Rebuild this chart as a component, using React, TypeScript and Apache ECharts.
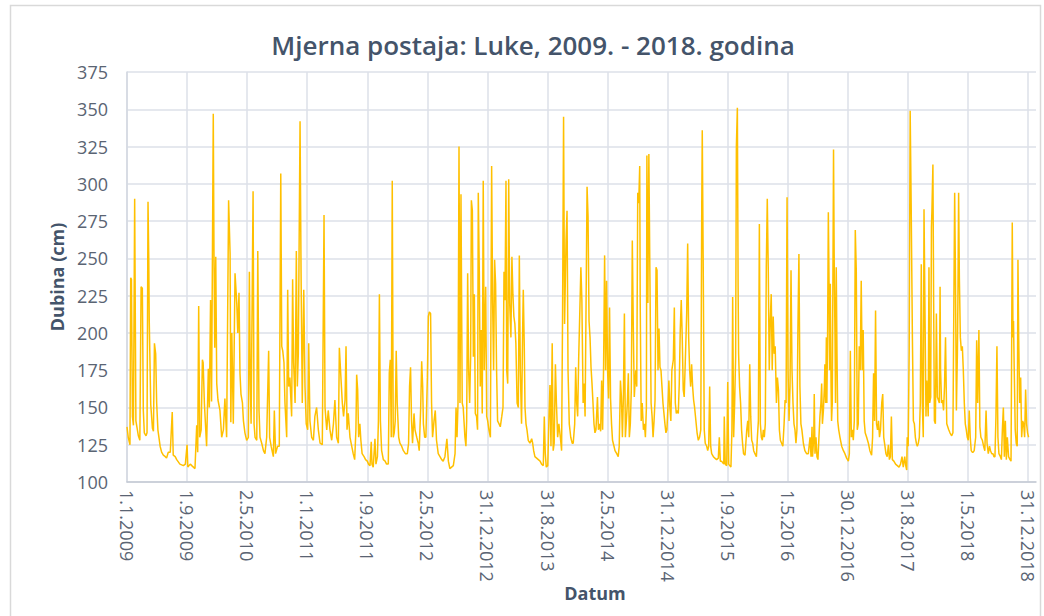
import React, { useEffect, useRef } from "react";
import * as echarts from "echarts";

const TITLE = "Mjerna postaja: Luke, 2009. - 2018. godina";
const Y_NAME = "Dubina (cm)";
const X_NAME = "Datum";
const TICK_LABELS = [
  "1.1.2009", "1.9.2009", "2.5.2010", "1.1.2011", "1.9.2011", "2.5.2012",
  "31.12.2012", "31.8.2013", "2.5.2014", "31.12.2014", "1.9.2015", "1.5.2016",
  "30.12.2016", "31.8.2017", "1.5.2018", "31.12.2018",
];
const LABEL_STEP = 243;
const CATEGORY_COUNT = 3678;
const Y_MIN = 100;
const Y_MAX = 375;
const Y_STEP = 25;

// [day index from 1.1.2009, depth in cm]
const SEG_2009 = [[0,137],[5,130],[12,125],[15,237],[18,236],[22,144],[26,138],[31,290],[34,200],[36,141],[42,135],[46,131],[52,128],[57,231],[62,230],[66,148],[70,133],[77,131],[81,133],[85,288],[88,250],[90,208],[96,152],[103,136],[107,134],[111,193],[116,186],[120,153],[125,135],[134,124],[140,120],[147,118],[155,117],[160,116],[167,120],[175,120],[183,147],[187,118],[195,117],[201,115],[214,112],[228,111],[236,112],[243,125],[246,110],[256,112],[262,111],[275,109],[282,138],[286,120],[290,218],[294,130],[300,135],[305,182],[308,180],[313,153],[322,124],[329,176],[333,150],[338,222],[342,154],[349,347],[352,250],[355,190],[359,251],[363,166],[368,155],[376,148],[383,130],[390,135],[396,156],[403,130],[411,289],[417,253],[420,140],[424,200],[430,139]];
const SEG_2010 = [[437,240],[444,220],[448,200],[453,227],[457,173],[461,159],[467,153],[471,141],[477,133],[484,128],[491,130],[495,241],[499,165],[502,139],[510,295],[514,139],[518,130],[525,128],[529,255],[534,148],[538,130],[545,126],[552,121],[558,119],[565,130],[573,188],[577,130],[583,124],[592,117],[596,148],[601,119],[609,124],[616,124],[622,307],[626,191],[630,188],[635,180],[639,153],[646,130],[650,229],[654,164],[659,170],[666,144],[670,236],[674,180],[680,153],[685,255],[689,164],[693,186],[700,342],[704,242],[709,153],[715,229],[720,164],[725,139],[731,135],[735,193],[740,141],[747,130],[754,128],[760,144],[767,150],[774,135],[781,126],[790,125],[797,279],[801,150],[808,135],[814,148],[821,135],[828,128],[835,139],[841,155],[848,130],[855,126],[859,190],[866,168],[871,153],[876,144],[882,155],[886,191],[890,135],[895,146]];
const SEG_2011 = [[902,130],[909,124],[915,119],[921,115],[926,135],[929,172],[933,162],[937,130],[942,139],[946,128],[951,119],[959,117],[965,115],[972,114],[977,112],[983,111],[988,127],[991,112],[996,110],[1003,129],[1007,112],[1013,117],[1017,141],[1021,226],[1025,141],[1030,121],[1037,115],[1044,114],[1050,112],[1057,112],[1061,173],[1065,182],[1069,130],[1073,302],[1077,130],[1081,133],[1085,141],[1089,188],[1093,153],[1099,130],[1104,126],[1111,124],[1118,121],[1126,119],[1134,119],[1139,126],[1143,164],[1147,177],[1151,141],[1155,126],[1161,146],[1165,135],[1172,130],[1178,126],[1182,121],[1188,150],[1192,181],[1196,164],[1199,139],[1204,130],[1209,130],[1215,170],[1219,211],[1223,214],[1228,213],[1232,153],[1236,130],[1242,141],[1247,148],[1252,128],[1259,119],[1266,117],[1273,115],[1279,114],[1286,117],[1294,129],[1300,114],[1306,109],[1313,110],[1320,111],[1327,119],[1331,150],[1335,130],[1339,153],[1343,325],[1347,153],[1351,293],[1356,153],[1360,150]];
const SEG_2012 = [[1367,130],[1371,124],[1374,141],[1378,240],[1382,175],[1386,153],[1390,184],[1393,289],[1397,282],[1401,184],[1405,226],[1409,146],[1414,144],[1418,135],[1421,294],[1425,242],[1429,164],[1433,202],[1437,146],[1441,302],[1445,175],[1451,231],[1455,144],[1459,141],[1464,135],[1470,130],[1475,312],[1479,220],[1483,175],[1487,249],[1491,233],[1495,175],[1499,141],[1505,139],[1510,137],[1516,144],[1521,150],[1525,241],[1529,222],[1533,302],[1536,175],[1540,166],[1544,303],[1548,220],[1553,197],[1557,251],[1561,226],[1565,211],[1569,206],[1573,193],[1578,153],[1583,150],[1587,252],[1591,175],[1596,139],[1600,197],[1603,229],[1607,191],[1610,150],[1614,139],[1618,135],[1623,128],[1630,126],[1637,129],[1641,126],[1645,121],[1650,117],[1657,116],[1664,115],[1671,114],[1677,112],[1684,111],[1688,144],[1692,119],[1696,110],[1702,111],[1707,144],[1711,165],[1715,124],[1720,193],[1724,121],[1728,126],[1733,179],[1737,153],[1742,130],[1747,139],[1753,130],[1758,121],[1762,215],[1766,345],[1770,206],[1776,262],[1780,282],[1784,175],[1789,139],[1795,130],[1801,126],[1805,126],[1811,139],[1815,177],[1819,153],[1823,144],[1827,182]];
const SEG_2014 = [[1836,244],[1840,222],[1845,153],[1849,166],[1853,144],[1857,220],[1861,298],[1865,278],[1869,208],[1873,197],[1877,177],[1881,166],[1885,153],[1889,139],[1893,133],[1897,135],[1903,157],[1907,135],[1911,139],[1916,134],[1920,168],[1924,135],[1928,179],[1932,252],[1936,175],[1940,235],[1944,175],[1948,156],[1952,217],[1956,156],[1960,139],[1964,128],[1970,124],[1974,121],[1981,119],[1987,117],[1991,124],[1996,168],[2000,157],[2004,130],[2008,157],[2012,213],[2016,130],[2020,141],[2024,153],[2028,173],[2032,130],[2036,139],[2040,162],[2044,262],[2048,204],[2052,157],[2058,175],[2062,164],[2066,294],[2070,287],[2074,312],[2076,220],[2080,141],[2084,153],[2089,135],[2093,139],[2097,130],[2101,150],[2103,319],[2107,220],[2111,320],[2115,242],[2120,153],[2124,144],[2128,130],[2132,141],[2136,155],[2140,244],[2144,242],[2148,175],[2152,203],[2156,177],[2160,175],[2164,164],[2168,153],[2172,146],[2176,139],[2180,133],[2184,135],[2188,150],[2192,168],[2196,150],[2200,141],[2204,175],[2210,182],[2214,217],[2218,153],[2222,146],[2226,148],[2230,146],[2234,166],[2238,202],[2242,222],[2246,197],[2250,162],[2254,157],[2258,179],[2264,213],[2268,260],[2272,197],[2276,175],[2280,164],[2284,179],[2288,164],[2292,155],[2296,150]];
const SEG_2015 = [[2306,133],[2311,128],[2316,130],[2321,135],[2325,287],[2327,336],[2331,242],[2335,135],[2339,126],[2345,124],[2349,121],[2353,124],[2357,164],[2361,124],[2365,119],[2372,117],[2378,116],[2385,115],[2392,116],[2396,130],[2400,114],[2405,114],[2414,112],[2416,144],[2420,112],[2426,111],[2430,167],[2434,112],[2438,111],[2443,110],[2447,135],[2450,224],[2454,130],[2458,153],[2462,184],[2465,325],[2469,351],[2472,231],[2474,186],[2478,164],[2482,153],[2486,135],[2490,126],[2494,119],[2500,118],[2507,135],[2511,141],[2515,130],[2519,179],[2523,144],[2527,128],[2531,126],[2535,121],[2540,119],[2546,117],[2550,130],[2554,141],[2558,273],[2562,139],[2566,130],[2570,128],[2574,135],[2578,130],[2582,139],[2586,244],[2590,290],[2594,242],[2598,175],[2602,208],[2606,226],[2610,175],[2614,211],[2618,186],[2622,191],[2627,153],[2631,170],[2635,162],[2639,135],[2643,128],[2648,126],[2653,124],[2658,139],[2662,155],[2666,153],[2670,291],[2674,175],[2678,141],[2682,164],[2686,242],[2690,175],[2694,153],[2698,139],[2702,135],[2706,126],[2710,135],[2714,204],[2718,253],[2722,164],[2726,139],[2730,135],[2736,126],[2742,121],[2749,119],[2756,119]];
const SEG_2017 = [[2763,130],[2767,117],[2771,137],[2773,117],[2778,130],[2780,159],[2783,119],[2787,130],[2791,117],[2795,115],[2799,130],[2803,144],[2807,153],[2810,166],[2813,139],[2817,148],[2821,164],[2823,179],[2826,153],[2829,197],[2831,153],[2834,200],[2837,281],[2840,231],[2842,175],[2845,233],[2848,164],[2850,141],[2853,153],[2856,253],[2858,323],[2861,242],[2864,197],[2866,153],[2869,244],[2872,186],[2875,141],[2879,135],[2884,130],[2891,124],[2898,121],[2904,119],[2911,116],[2918,114],[2922,119],[2926,188],[2930,130],[2934,135],[2938,128],[2942,141],[2946,269],[2950,242],[2954,135],[2958,139],[2962,191],[2966,175],[2970,235],[2974,175],[2978,202],[2982,141],[2986,133],[2992,130],[2999,126],[3005,121],[3012,118],[3016,130],[3020,173],[3024,141],[3028,215],[3032,139],[3036,135],[3040,141],[3044,130],[3048,135],[3053,153],[3057,159],[3061,130],[3066,124],[3070,119],[3075,117],[3080,125],[3084,115],[3088,117],[3092,144],[3096,115],[3102,114],[3109,112],[3116,111],[3123,110],[3129,112],[3135,117],[3140,110],[3146,117],[3150,111],[3154,108],[3156,130],[3160,124],[3164,188],[3168,349],[3172,287],[3177,197],[3181,141],[3185,139],[3189,130],[3193,126],[3197,124],[3201,126],[3205,130],[3209,153],[3213,246],[3217,153],[3221,130],[3224,283]];
const SEG_2018 = [[3232,144],[3235,168],[3239,153],[3241,144],[3244,244],[3247,153],[3251,157],[3254,271],[3256,282],[3260,313],[3263,220],[3266,141],[3270,139],[3274,213],[3278,157],[3282,155],[3286,153],[3289,231],[3291,175],[3295,153],[3299,155],[3303,148],[3307,164],[3311,197],[3316,139],[3320,137],[3324,135],[3329,133],[3336,131],[3341,133],[3345,226],[3348,294],[3351,242],[3355,148],[3359,186],[3361,220],[3364,294],[3367,237],[3371,197],[3375,188],[3379,191],[3383,175],[3387,153],[3391,139],[3395,135],[3399,130],[3403,128],[3407,148],[3411,130],[3415,121],[3419,120],[3423,120],[3427,121],[3433,130],[3437,195],[3441,153],[3446,202],[3450,137],[3454,130],[3460,128],[3465,124],[3470,121],[3475,148],[3479,126],[3484,119],[3489,124],[3493,121],[3498,119],[3503,119],[3507,117],[3511,117],[3515,144],[3519,191],[3523,130],[3527,119],[3533,117],[3537,115],[3541,135],[3545,150],[3549,117],[3553,141],[3557,115],[3561,130],[3566,117],[3572,115],[3576,114],[3578,175],[3581,274],[3584,197],[3586,208],[3589,175],[3593,135],[3597,126],[3601,124],[3604,249],[3607,197],[3611,153],[3615,170],[3619,130],[3623,141],[3627,139],[3631,130],[3635,162],[3639,139],[3643,133],[3647,130]];

const FONT = "'Open Sans', 'Noto Sans', sans-serif";
const LABEL_COLOR = "#5a6473";
const TITLE_COLOR = "#44546a";

export default function App() {
  const ref = useRef<HTMLDivElement>(null);
  useEffect(() => {
    const chart = echarts.init(ref.current as HTMLDivElement, null, { renderer: "svg" });
    const start = Date.UTC(2009, 0, 1);
    const categories = Array.from({ length: CATEGORY_COUNT }, (_, i) => {
      const d = new Date(start + i * 86400000);
      return `${d.getUTCDate()}.${d.getUTCMonth() + 1}.${d.getUTCFullYear()}`;
    });
    const data = [
      ...SEG_2009, ...SEG_2010, ...SEG_2011, ...SEG_2012,
      ...SEG_2014, ...SEG_2015, ...SEG_2017, ...SEG_2018,
    ];
    const showAt = (i: number) => i % LABEL_STEP === 0 && i / LABEL_STEP < TICK_LABELS.length;
    chart.setOption({
      animation: false,
      backgroundColor: "#ffffff",
      title: {
        text: TITLE,
        left: 528,
        top: 27,
        textAlign: "center",
        textStyle: { fontFamily: FONT, fontSize: 26, fontWeight: 600, color: TITLE_COLOR },
      },
      graphic: [
        {
          type: "rect",
          shape: { x: 10.5, y: 5.5, width: 1030, height: 640 },
          style: { fill: "none", stroke: "#d9d9d9", lineWidth: 1.5 },
          silent: true,
        },
        {
          type: "text",
          x: 595,
          y: 593,
          style: {
            text: X_NAME,
            fontFamily: FONT,
            fontSize: 18,
            fontWeight: "bold",
            fill: TITLE_COLOR,
            textAlign: "center",
            textVerticalAlign: "middle",
          },
        },
      ],
      grid: { left: 127, top: 72, right: 8, bottom: 134, containLabel: false },
      xAxis: {
        type: "category",
        data: categories,
        boundaryGap: false,
        axisLine: { show: true, lineStyle: { color: "#c3c9d3", width: 1.5 } },
        axisTick: { show: false },
        axisLabel: {
          interval: (i: number) => showAt(i),
          formatter: (_v: string, i: number) => TICK_LABELS[Math.round(i / LABEL_STEP)] ?? "",
          rotate: -90,
          margin: 8,
          fontFamily: FONT,
          fontSize: 18,
          color: LABEL_COLOR,
        },
        splitLine: {
          show: true,
          interval: (i: number) => showAt(i),
          lineStyle: { color: "#dde1e8", width: 1.5 },
        },
      },
      yAxis: {
        type: "value",
        min: Y_MIN,
        max: Y_MAX,
        interval: Y_STEP,
        name: Y_NAME,
        nameLocation: "middle",
        nameGap: 61,
        nameTextStyle: { fontFamily: FONT, fontSize: 18, fontWeight: "bold", color: TITLE_COLOR },
        axisLine: { show: true, lineStyle: { color: "#d3d8e0", width: 1.5 } },
        axisTick: { show: false },
        axisLabel: { margin: 19, fontFamily: FONT, fontSize: 18, color: LABEL_COLOR },
        splitLine: { show: true, lineStyle: { color: "#dde1e8", width: 1.5 } },
      },
      series: [
        {
          type: "line",
          data,
          showSymbol: false,
          symbol: "none",
          lineStyle: { color: "#ffc000", width: 1.5 },
          itemStyle: { color: "#ffc000" },
        },
      ],
    });
    return () => chart.dispose();
  }, []);
  return (
    <div
      ref={ref}
      style={{ position: "absolute", left: 0, top: 0, width: 1044, height: 616, background: "#fff" }}
    />
  );
}
